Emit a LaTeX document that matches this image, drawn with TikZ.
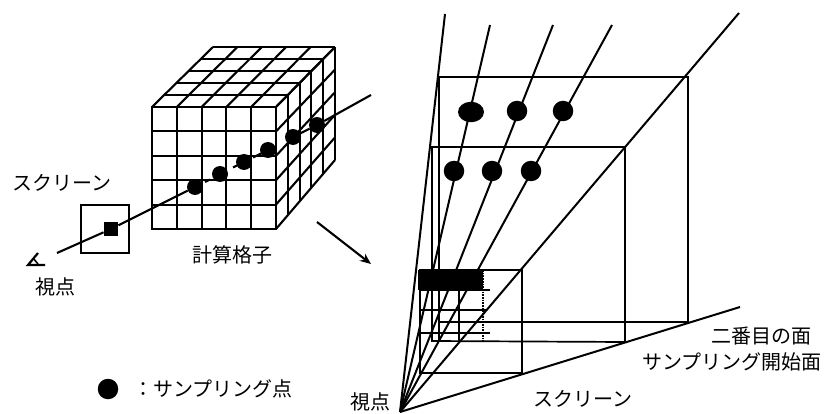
\documentclass[tikz,border=0pt]{standalone}
\usepackage{fontspec}
\setmainfont{Noto Sans CJK JP}
\usetikzlibrary{arrows.meta,shapes.geometric}
\tikzset{
 ln/.style={line width=2.1pt,black},
 ray/.style={line width=2pt,black},
 thn/.style={line width=1.7pt,black},
 dot/.style={circle,fill=black,minimum size=16pt,inner sep=0pt},
 bigdot/.style={circle,fill=black,minimum size=20.5pt,inner sep=0pt},
 lab/.style={inner sep=0pt,font=\fontsize{20}{22}\selectfont},
}
\begin{document}
\begin{tikzpicture}[x=1pt,y=-1pt]
\useasboundingbox (0,0) rectangle (827,414);
\fill[white] (0,0) rectangle (827,414);
% cube
\coordinate (fa) at (152,107); \coordinate (fc) at (276,229);
\foreach \i in {0,...,5}{
  \draw[ln] (152+\i*24.8,107) -- (152+\i*24.8,229);
  \draw[ln] (152,107+\i*24.4) -- (276,107+\i*24.4);
  \draw[ln] (152+\i*24.8,107) -- (213+\i*24.4,47);
  \draw[ln] (152+\i*12.2,107-\i*12) -- (276+\i*11.8,107-\i*12);
  \draw[ln] (276+\i*11.8,107-\i*12) -- (276+\i*11.8,229-\i*13.8);
  \draw[ln] (276,107+\i*24.4) -- (335,47+\i*22.6);
}
\draw[line width=2.7pt] (fa) rectangle (fc);
% ray
\node[dot] (d1) at (195,187) {};
\node[dot] (d2) at (220,174) {};
\node[dot] (d3) at (244,162) {};
\node[dot] (d4) at (268,150) {};
\node[dot] (d5) at (293,137) {};
\node[dot] (d6) at (317,125) {};
\coordinate (ve) at (57,253); \coordinate (ry) at (371,95);
\node[fill=black,minimum size=14.5pt,inner sep=0pt] (sq) at (111,229) {};
\draw[ln] (ve) -- (sq) -- (d1);
\draw[ln] (d6) -- (ry);
\draw[ln] (d5) -- (d6);
\draw[ln] (d1.center) ++(10,-5) -- ++(5,-2.5);
\draw[ln] (d2.center) ++(13,-6.5) -- ++(4,-2);
\draw[ln] (d3.center) ++(9,-4.5) -- ++(8,-4);
% screen
\draw[thn] (81,205) rectangle (129,253);
% eye
\draw[line width=2.2pt] (38,253) -- (28,265) -- (45,265);
\draw[line width=1.6pt] (33,258) -- (38,264);
% arrow
\coordinate (aa) at (317,222); \coordinate (ab) at (371,264);
\draw[ln,-{Stealth[length=11pt,width=9pt]}] (aa) -- (ab);
% right part
\coordinate (O) at (400,412);
\coordinate (r1) at (445,14); \coordinate (r2) at (490,25); \coordinate (r3) at (553,25);
\coordinate (r4) at (612,25); \coordinate (r5) at (739,13); \coordinate (r6) at (740,307);
\foreach \p in {r1,r2,r3,r4,r5,r6}{
  \draw[ray] (O) -- (\p);
}
\draw[thn] (439,341) -- (439,77) -- (688,77) -- (688,322) -- (439,322);
\draw[thn] (432,341) -- (432,147) -- (625,147) -- (625,342) -- cycle;
\draw[thn] (420,270) rectangle (522,373);
\fill (418,270) rectangle (483,290);
\draw[thn] (459,270) -- (459,341);
\draw[thn,densely dotted] (483,270) -- (483,341);
\draw[thn] (420,290) -- (490,290);
\draw[thn] (420,310) -- (487,310);
\draw[thn] (420,333) -- (490,333);
\node[ellipse,fill=black,minimum width=26pt,minimum height=20.5pt,inner sep=0pt] (e1) at (471,112) {};
\node[bigdot] (e2) at (517,111) {};
\node[bigdot] (e3) at (563,111) {};
\node[bigdot] (e4) at (454,171) {};
\node[bigdot] (e5) at (492,171) {};
\node[bigdot] (e6) at (531,171) {};
% labels
\node[lab] (t1) at (62,183) {スクリーン};
\node[lab] (t2) at (232,255) {計算格子};
\node[lab] (t3) at (55,287) {視点};
\node[bigdot] (k) at (108,389) {};
\node[lab,anchor=west] (t4) at (133,389) {：サンプリング点};
\node[lab] (t5) at (370,402) {視点};
\node[lab] (t6) at (583,399) {スクリーン};
\node[lab] (t7) at (761,336) {二番目の面};
\node[lab] (t8) at (732,362) {サンプリング開始面};
\end{tikzpicture}
\end{document}
